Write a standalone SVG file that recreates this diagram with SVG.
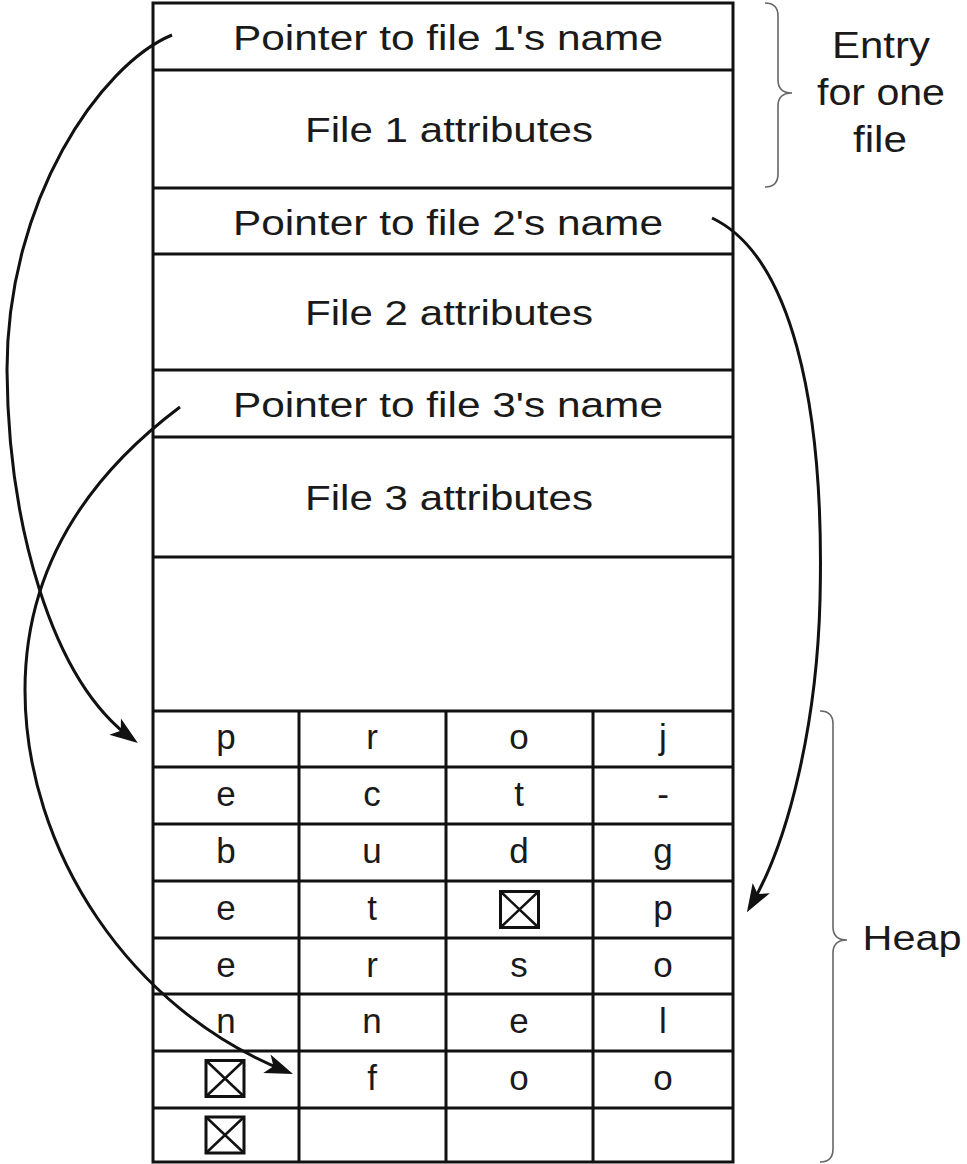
<svg xmlns="http://www.w3.org/2000/svg" xmlns:xlink="http://www.w3.org/1999/xlink" width="967" height="1164" viewBox="0 0 967 1164">
<style>
.ln{stroke:#111;stroke-width:3;fill:none}
.br{stroke:#666;stroke-width:1.6;fill:none}
.t{font-family:"Liberation Sans",Arial,Helvetica,sans-serif;font-size:35px;fill:#1a1a1a;text-anchor:middle}
.s{font-size:37px}
.conn{stroke:#111;stroke-width:3;fill:none;marker-end:url(#ah)}
</style>
<defs>
<marker id="ah" markerUnits="userSpaceOnUse" markerWidth="32" markerHeight="24" viewBox="-24 -12 32 24" refX="0" refY="0" orient="auto">
<path d="M6,0 L-22,-10 L-15,0 L-22,10 Z" fill="#111"/>
</marker>
<g id="xbox">
<rect x="-19" y="-18" width="38" height="36" fill="none" stroke="#111" stroke-width="3"/>
<path d="M-19,-18 L19,18 M19,-18 L-19,18" stroke="#111" stroke-width="2.5"/>
</g>
</defs>
<rect width="967" height="1164" fill="#fff"/>

<g id="directory">
<rect class="ln" x="153" y="3" width="580" height="1159"/>
<g id="entry1-pointer">
<line class="ln" x1="153" y1="70" x2="733" y2="70"/>
<text class="t" x="448" y="50" textLength="430" lengthAdjust="spacingAndGlyphs">Pointer to file 1's name</text>
</g>
<g id="entry1-attributes">
<line class="ln" x1="153" y1="188" x2="733" y2="188"/>
<text class="t" x="449" y="142" textLength="288" lengthAdjust="spacingAndGlyphs">File 1 attributes</text>
</g>
<g id="entry2-pointer">
<line class="ln" x1="153" y1="254" x2="733" y2="254"/>
<text class="t" x="448" y="235" textLength="430" lengthAdjust="spacingAndGlyphs">Pointer to file 2's name</text>
</g>
<g id="entry2-attributes">
<line class="ln" x1="153" y1="370" x2="733" y2="370"/>
<text class="t" x="449" y="325" textLength="288" lengthAdjust="spacingAndGlyphs">File 2 attributes</text>
</g>
<g id="entry3-pointer">
<line class="ln" x1="153" y1="437" x2="733" y2="437"/>
<text class="t" x="448" y="417" textLength="430" lengthAdjust="spacingAndGlyphs">Pointer to file 3's name</text>
</g>
<g id="entry3-attributes">
<line class="ln" x1="153" y1="557" x2="733" y2="557"/>
<text class="t" x="449" y="510" textLength="288" lengthAdjust="spacingAndGlyphs">File 3 attributes</text>
</g>
<g id="free-space">
<line class="ln" x1="153" y1="711" x2="733" y2="711"/>
</g>
</g>

<g id="heap">
<path class="ln" d="M153,767 H733 M153,824 H733 M153,881 H733 M153,938 H733 M153,994 H733 M153,1051 H733 M153,1108 H733 M299,711 V1162 M446,711 V1162 M593,711 V1162"/>
<g class="t">
<text x="226" y="749">p</text><text x="372" y="749">r</text><text x="519" y="749">o</text><text x="663" y="749">j</text>
<text x="226" y="806">e</text><text x="372" y="806">c</text><text x="519" y="806">t</text><text x="663" y="806">-</text>
<text x="226" y="863">b</text><text x="372" y="863">u</text><text x="519" y="863">d</text><text x="663" y="863">g</text>
<text x="226" y="920">e</text><text x="372" y="920">t</text><text x="663" y="920">p</text>
<text x="226" y="977">e</text><text x="372" y="977">r</text><text x="519" y="977">s</text><text x="663" y="977">o</text>
<text x="226" y="1033">n</text><text x="372" y="1033">n</text><text x="519" y="1033">e</text><text x="663" y="1033">l</text>
<text x="372" y="1090">f</text><text x="519" y="1090">o</text><text x="663" y="1090">o</text>
</g>
<use xlink:href="#xbox" x="519.5" y="909.5"/>
<use xlink:href="#xbox" x="225" y="1078.5"/>
<use xlink:href="#xbox" x="225" y="1135"/>
</g>

<g id="entry-label">
<path class="br" d="M765,3 Q778,3 778,16 L778,80 Q778,93 792,93 Q778,93 778,106 L778,174 Q778,187 765,187"/>
<text class="t s" x="881" y="58" textLength="98" lengthAdjust="spacingAndGlyphs">Entry</text>
<text class="t s" x="881" y="105" textLength="128" lengthAdjust="spacingAndGlyphs">for one</text>
<text class="t s" x="880" y="152" textLength="54" lengthAdjust="spacingAndGlyphs">file</text>
</g>

<g id="heap-label">
<path class="br" d="M820,711 Q833,711 833,724 L833,927 Q833,940 847,940 Q833,940 833,953 L833,1149 Q833,1162 820,1162"/>
<text class="t" x="912" y="950" textLength="99" lengthAdjust="spacingAndGlyphs">Heap</text>
</g>

<g id="connectors">
<path class="conn" d="M172,35 C100,65 7,200 7,370 C8,520 50,680 133,739.5"/>
<path class="conn" d="M712,218 C790,255 825,400 820,600 C817,720 790,840 750,907"/>
<path class="conn" d="M180,407 C120,452 25,540 25,690 C25,850 130,1010 287.4,1071.8"/>
</g>
</svg>
